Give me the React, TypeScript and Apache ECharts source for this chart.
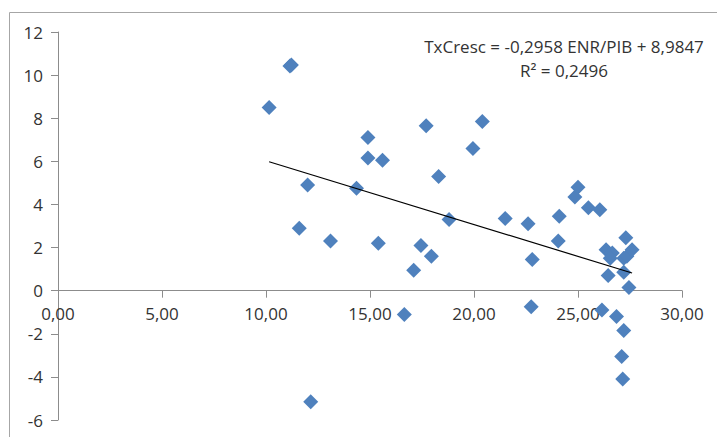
import React, { useEffect, useRef } from "react";
import * as echarts from "echarts";

// ENR/PIB (x) values
const enrPib: number[] = [
  10.15, 11.15, 11.22, 11.6, 12.0, 12.15, 13.1, 14.35, 14.9, 14.9, 15.6, 15.4,
  16.65, 17.1, 17.45, 17.7, 17.95, 18.3, 18.8, 19.95, 20.4, 21.5, 22.6, 22.8,
  22.75, 24.05, 24.1, 24.85, 25.0, 25.5, 26.05, 26.15, 26.35, 26.65, 26.55,
  26.45, 26.85, 27.1, 27.15, 27.2, 27.2, 27.2, 27.3, 27.35, 27.45, 27.6,
];
// TxCresc (y) values
const txCresc: number[] = [
  8.5, 10.42, 10.47, 2.9, 4.9, -5.15, 2.3, 4.75, 7.1, 6.15, 6.05, 2.2,
  -1.1, 0.95, 2.1, 7.65, 1.6, 5.3, 3.3, 6.6, 7.85, 3.35, 3.1, 1.45,
  -0.75, 2.3, 3.45, 4.35, 4.8, 3.85, 3.75, -0.9, 1.9, 1.75, 1.5,
  0.7, -1.2, -3.05, -4.1, -1.85, 0.85, 1.5, 2.45, 1.6, 0.15, 1.9,
];

const slope = -0.2958;
const intercept = 8.9847;
const equationText = "TxCresc = -0,2958 ENR/PIB + 8,9847";
const r2Text = "R² = 0,2496";

const FONT = "'Open Sans', sans-serif";
const TEXT_COLOR = "#333333";

const W = 717;
const H = 437;
const GRID = { left: 58, right: 35, top: 32, bottom: 17 };
const Y_MIN = -6;
const Y_MAX = 12;

export default function App() {
  const ref = useRef<HTMLDivElement>(null);

  useEffect(() => {
    if (!ref.current) return;
    const chart = echarts.init(ref.current, null, { renderer: "svg" });
    const points = enrPib.map((x, i) => [x, txCresc[i]]);
    const xMin = Math.min(...enrPib);
    const xMax = Math.max(...enrPib);
    const trend = [
      [xMin, slope * xMin + intercept],
      [xMax, slope * xMax + intercept],
    ];
    // place the x axis on y = 0 (line, ticks and labels)
    const plotH = H - GRID.top - GRID.bottom;
    const zeroFromBottom = (plotH * (0 - Y_MIN)) / (Y_MAX - Y_MIN);
    chart.setOption({
      animation: false,
      backgroundColor: "#ffffff",
      grid: { ...GRID, containLabel: false, outerBoundsMode: "none" },
      xAxis: {
        type: "value",
        position: "bottom",
        offset: -zeroFromBottom,
        min: 0,
        max: 30,
        interval: 5,
        axisLine: { show: true, onZero: false, lineStyle: { color: "#8c8c8c", width: 1 } },
        axisTick: { show: true, length: 7, lineStyle: { color: "#8c8c8c" } },
        splitLine: { show: false },
        axisLabel: {
          margin: 14,
          color: TEXT_COLOR,
          fontFamily: FONT,
          fontSize: 17,
          formatter: (v: number) => v.toFixed(2).replace(".", ","),
        },
      },
      yAxis: {
        type: "value",
        min: Y_MIN,
        max: Y_MAX,
        interval: 2,
        axisLine: { show: true, onZero: false, lineStyle: { color: "#8c8c8c", width: 1 } },
        axisTick: { show: true, length: 7, lineStyle: { color: "#8c8c8c" } },
        splitLine: { show: false },
        axisLabel: {
          margin: 15,
          color: TEXT_COLOR,
          fontFamily: FONT,
          fontSize: 17,
        },
      },
      series: [
        {
          type: "scatter",
          data: points,
          symbol: "diamond",
          symbolSize: 15,
          itemStyle: { color: "#4F81BD", opacity: 1 },
          z: 2,
        },
        {
          type: "line",
          data: trend,
          showSymbol: false,
          symbol: "none",
          lineStyle: { color: "#000000", width: 1.2 },
          z: 3,
        },
      ],
      graphic: [
        {
          type: "rect",
          left: 7,
          top: 10,
          shape: { x: 0, y: 0, width: 720, height: 440 },
          style: { fill: "none", stroke: "#a6a6a6", lineWidth: 1 },
          silent: true,
        },
        {
          type: "text",
          x: 564,
          y: 46,
          style: {
            text: equationText,
            fill: TEXT_COLOR,
            font: `17px ${FONT}`,
            textAlign: "center",
            textVerticalAlign: "middle",
          },
        },
        {
          type: "text",
          x: 564,
          y: 70,
          style: {
            text: r2Text,
            fill: TEXT_COLOR,
            font: `17px ${FONT}`,
            textAlign: "center",
            textVerticalAlign: "middle",
          },
        },
      ],
    });
    return () => chart.dispose();
  }, []);

  return (
    <div
      ref={ref}
      style={{ position: "fixed", left: 0, top: 0, width: W, height: H }}
    />
  );
}
